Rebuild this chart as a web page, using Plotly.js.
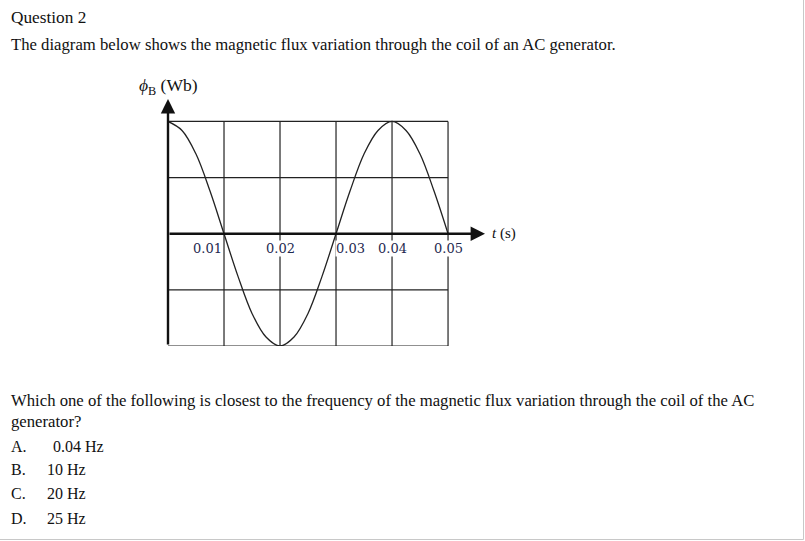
<!DOCTYPE html>
<html><head><meta charset="utf-8">
<script src="https://cdn.plot.ly/plotly-3.0.1.min.js"></script>
<style>html,body{margin:0;padding:0;background:#fff;}#chart{width:805px;height:541px;}</style>
</head><body><div id="chart"></div>
<script>
// Data
var tValues = [0, 0.0025, 0.005, 0.0075, 0.01, 0.0125, 0.015, 0.0175, 0.02, 0.0225, 0.025, 0.0275, 0.03, 0.0325, 0.035, 0.0375, 0.04, 0.0425, 0.045, 0.0475, 0.05];
var fluxValues = [1.0, 0.92, 0.71, 0.38, 0, -0.38, -0.71, -0.92, -1.0, -0.92, -0.71, -0.38, 0, 0.38, 0.71, 0.92, 1.0, 0.92, 0.71, 0.38, 0];
var gridX = [0.01, 0.02, 0.03, 0.04, 0.05];
var gridY = [-1, -0.5, 0.5, 1];
var tickLabels = ["0.01", "0.02", "0.03", "0.04", "0.05"];
var tickShift = [-17, 0, 14, 0, 0];
var options = ["A.", "B.", "C.", "D."];
var optionText = ["0.04 Hz", "10 Hz", "20 Hz", "25 Hz"];

var L = 168, R = 320, T = 99, B = 195, W = 805, H = 541;
var PW = W - L - R, PH = H - T - B;
function px(x){ return (x - L) / PW; }
function py(y){ return (H - B - y) / PH; }

var serif = "Liberation Serif, Times New Roman, serif";
var shapes = [];
gridX.forEach(function(x){
  shapes.push({type:'line', xref:'x', yref:'y', x0:x, x1:x, y0:-1, y1:1, line:{color:'#222', width:1.2}, layer:'below'});
});
gridY.forEach(function(y){
  shapes.push({type:'line', xref:'x', yref:'y', x0:0, x1:0.05, y0:y, y1:y, line:{color:'#222', width:1.2}, layer:'below'});
});
// page border
shapes.push({type:'line', xref:'paper', yref:'paper', x0:px(803.5), x1:px(803.5), y0:py(0), y1:py(539.5), line:{color:'#c8c8c8', width:1}});
shapes.push({type:'line', xref:'paper', yref:'paper', x0:px(0), x1:px(803.5), y0:py(539.5), y1:py(539.5), line:{color:'#c8c8c8', width:1}});

var ann = [];
// axes arrows
ann.push({xref:'x', yref:'y', axref:'x', ayref:'y', x:0.0566, y:0, ax:0, ay:0, showarrow:true, arrowhead:2, arrowsize:1.2, arrowwidth:2.4, arrowcolor:'#111', standoff:0, text:''});
ann.push({xref:'x', yref:'y', axref:'x', ayref:'y', x:0, y:1.2, ax:0, ay:-1, showarrow:true, arrowhead:2, arrowsize:1.2, arrowwidth:2.4, arrowcolor:'#111', standoff:0, text:''});
// tick labels
tickLabels.forEach(function(s, i){
  ann.push({xref:'x', yref:'y', x:gridX[i], y:0, xshift:tickShift[i], yshift:-15, text:s, showarrow:false,
    xanchor:'center', yanchor:'middle', bgcolor:'#fff', borderpad:0,
    font:{family:'DejaVu Serif, serif', size:13, color:'#1f2a50'}});
});
// axis titles
ann.push({xref:'paper', yref:'paper', x:px(168), y:py(86), text:'<i>ϕ</i><sub>B</sub> (Wb)', showarrow:false, xanchor:'center', yanchor:'middle', font:{family:serif, size:17.5, color:'#111'}});
ann.push({xref:'paper', yref:'paper', x:px(490), y:py(234), text:'<i>t</i> (s)', showarrow:false, xanchor:'left', yanchor:'middle', font:{family:serif, size:15, color:'#111'}});
// question text
function txt(x, y, s, size){
  ann.push({xref:'paper', yref:'paper', x:px(x), y:py(y), text:s, showarrow:false, xanchor:'left', yanchor:'middle', font:{family:serif, size:size || 16, color:'#111'}});
}
txt(9, 18, 'Question 2', 17.3);
txt(9, 45, 'The diagram below shows the magnetic flux variation through the coil of an AC generator.', 16.7);
txt(9, 400, 'Which one of the following is closest to the frequency of the magnetic flux variation through the coil of the AC', 16.7);
txt(9, 421, 'generator?', 16.7);
var optY = [446, 470, 494, 518];
var optX = [51, 45, 45, 45];
options.forEach(function(o, i){ txt(9, optY[i], o); txt(optX[i], optY[i], optionText[i]); });

var trace = {x:tValues, y:fluxValues, type:'scatter', mode:'lines', line:{color:'#222', width:1.3, shape:'spline', smoothing:1}, hoverinfo:'skip', cliponaxis:false};

var layout = {
  width:W, height:H, margin:{l:L, r:R, t:T, b:B}, paper_bgcolor:'#fff', plot_bgcolor:'#fff', showlegend:false,
  xaxis:{range:[0, 0.0566], showgrid:false, zeroline:false, showline:false, showticklabels:false, ticks:''},
  yaxis:{range:[-1, 1.2], showgrid:false, zeroline:false, showline:false, showticklabels:false, ticks:''},
  shapes:shapes, annotations:ann
};
Plotly.newPlot('chart', [trace], layout, {staticPlot:true, displayModeBar:false});
</script></body></html>
